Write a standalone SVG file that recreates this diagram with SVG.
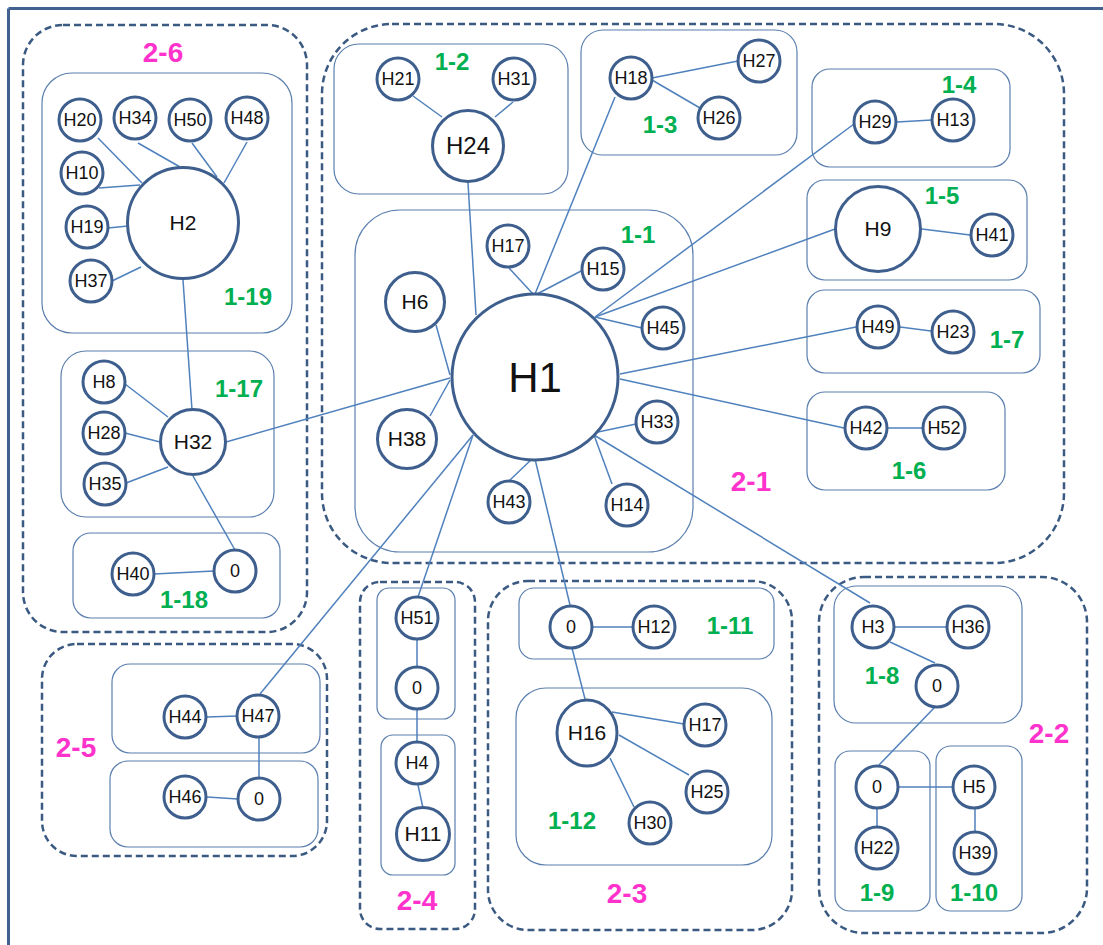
<svg xmlns="http://www.w3.org/2000/svg" width="1103" height="945" viewBox="0 0 1103 945">
<style>
.frame{stroke:#41628f;stroke-width:3;fill:none}
.grp{fill:none;stroke:#3b5a82;stroke-width:2.5;stroke-dasharray:7,4}
.box{fill:none;stroke:#5b7fae;stroke-width:1.2}
.edge{stroke:#4f81bd;stroke-width:1.5;fill:none}
.n{fill:#fff;stroke:#3e5f8d;stroke-width:3}
.t{font-family:"Liberation Sans",Arial,sans-serif;font-size:18px;fill:#111;text-anchor:middle}
.tb{font-family:"Liberation Sans",Arial,sans-serif;font-size:21px;fill:#111;text-anchor:middle}
.g1{font-family:"Liberation Sans",Arial,sans-serif;font-weight:bold;font-size:24px;fill:#00b050;text-anchor:middle}
.g2{font-family:"Liberation Sans",Arial,sans-serif;font-weight:bold;font-size:28px;fill:#ff33cc;text-anchor:middle}
</style>
<rect width="1103" height="945" fill="#fff"/>
<g id="frame">
<line class="frame" x1="8.5" y1="8.5" x2="1103" y2="8.5"/>
<line class="frame" x1="8.5" y1="8.5" x2="8.5" y2="945"/>
</g>
<g id="groups">
<rect class="grp" x="23" y="25" width="284" height="607" rx="40"/>
<rect class="grp" x="322" y="24" width="742" height="539" rx="70"/>
<rect class="grp" x="42" y="644" width="285" height="212" rx="35"/>
<rect class="grp" x="360" y="582" width="115" height="347" rx="20"/>
<rect class="grp" x="488" y="581" width="304" height="349" rx="40"/>
<rect class="grp" x="819" y="577" width="268" height="356" rx="45"/>
</g>
<g id="boxes">
<rect class="box" x="42" y="73" width="250" height="260" rx="30"/>
<rect class="box" x="61" y="351" width="213" height="166" rx="25"/>
<rect class="box" x="73" y="533" width="207" height="85" rx="18"/>
<rect class="box" x="334" y="44" width="234" height="150" rx="25"/>
<rect class="box" x="581" y="30" width="216" height="125" rx="22"/>
<rect class="box" x="812" y="69" width="198" height="98" rx="18"/>
<rect class="box" x="807" y="180" width="220" height="100" rx="18"/>
<rect class="box" x="807" y="290" width="233" height="83" rx="18"/>
<rect class="box" x="807" y="392" width="198" height="98" rx="18"/>
<rect class="box" x="355" y="210" width="338" height="342" rx="45"/>
<rect class="box" x="112" y="664" width="208" height="89" rx="18"/>
<rect class="box" x="110" y="761" width="208" height="86" rx="18"/>
<rect class="box" x="377" y="588" width="78" height="131" rx="12"/>
<rect class="box" x="381" y="735" width="74" height="140" rx="12"/>
<rect class="box" x="519" y="588" width="255" height="71" rx="15"/>
<rect class="box" x="516" y="688" width="256" height="177" rx="30"/>
<rect class="box" x="834" y="586" width="188" height="137" rx="22"/>
<rect class="box" x="835" y="751" width="95" height="160" rx="15"/>
<rect class="box" x="936" y="746" width="86" height="165" rx="15"/>
</g>
<g id="connectors">
<line class="edge" x1="98" y1="138" x2="142" y2="183"/>
<line class="edge" x1="138" y1="143" x2="180" y2="167"/>
<line class="edge" x1="192" y1="143" x2="217" y2="177"/>
<line class="edge" x1="247" y1="142" x2="224" y2="183"/>
<line class="edge" x1="99" y1="188" x2="140" y2="185"/>
<line class="edge" x1="108" y1="228" x2="128" y2="226"/>
<line class="edge" x1="112" y1="281" x2="141" y2="267"/>
<line class="edge" x1="183" y1="280" x2="192" y2="410"/>
<line class="edge" x1="125" y1="384" x2="168" y2="417"/>
<line class="edge" x1="125" y1="433" x2="160" y2="442"/>
<line class="edge" x1="126" y1="483" x2="168" y2="467"/>
<line class="edge" x1="193" y1="476" x2="235" y2="550"/>
<line class="edge" x1="154" y1="574" x2="214" y2="571"/>
<line class="edge" x1="226" y1="442" x2="450" y2="378"/>
<line class="edge" x1="413" y1="96" x2="442" y2="117"/>
<line class="edge" x1="513" y1="102" x2="495" y2="117"/>
<line class="edge" x1="468" y1="183" x2="476" y2="315"/>
<line class="edge" x1="652" y1="78" x2="738" y2="61"/>
<line class="edge" x1="652" y1="80" x2="700" y2="108"/>
<line class="edge" x1="615" y1="97" x2="535" y2="294"/>
<line class="edge" x1="897" y1="122" x2="932" y2="120"/>
<line class="edge" x1="854" y1="124" x2="595" y2="317"/>
<line class="edge" x1="835" y1="229" x2="595" y2="317"/>
<line class="edge" x1="922" y1="229" x2="970" y2="235"/>
<line class="edge" x1="900" y1="327" x2="931" y2="331"/>
<line class="edge" x1="856" y1="327" x2="620" y2="374"/>
<line class="edge" x1="888" y1="428" x2="922" y2="428"/>
<line class="edge" x1="844" y1="428" x2="620" y2="379"/>
<line class="edge" x1="509" y1="268" x2="533" y2="294"/>
<line class="edge" x1="583" y1="270" x2="537" y2="294"/>
<line class="edge" x1="642" y1="328" x2="595" y2="317"/>
<line class="edge" x1="636" y1="424" x2="598" y2="432"/>
<line class="edge" x1="612" y1="484" x2="594" y2="435"/>
<line class="edge" x1="870" y1="603" x2="594" y2="435"/>
<line class="edge" x1="510" y1="480" x2="533" y2="458"/>
<line class="edge" x1="570" y1="605" x2="535" y2="459"/>
<line class="edge" x1="436" y1="325" x2="450" y2="375"/>
<line class="edge" x1="430" y1="416" x2="450" y2="380"/>
<line class="edge" x1="260" y1="694" x2="473" y2="435"/>
<line class="edge" x1="418" y1="597" x2="473" y2="435"/>
<line class="edge" x1="207" y1="717" x2="237" y2="716"/>
<line class="edge" x1="207" y1="797" x2="238" y2="799"/>
<line class="edge" x1="259" y1="738" x2="259" y2="778"/>
<line class="edge" x1="417" y1="640" x2="417" y2="667"/>
<line class="edge" x1="417" y1="709" x2="417" y2="742"/>
<line class="edge" x1="418" y1="785" x2="423" y2="808"/>
<line class="edge" x1="593" y1="627" x2="633" y2="627"/>
<line class="edge" x1="572" y1="648" x2="585" y2="699"/>
<line class="edge" x1="612" y1="712" x2="684" y2="724"/>
<line class="edge" x1="619" y1="735" x2="689" y2="775"/>
<line class="edge" x1="610" y1="758" x2="634" y2="807"/>
<line class="edge" x1="895" y1="627" x2="947" y2="627"/>
<line class="edge" x1="890" y1="642" x2="935" y2="663"/>
<line class="edge" x1="935" y1="707" x2="879" y2="765"/>
<line class="edge" x1="898" y1="787" x2="953" y2="787"/>
<line class="edge" x1="877" y1="809" x2="877" y2="827"/>
<line class="edge" x1="975" y1="809" x2="975" y2="832"/>
</g>
<g id="n-H20"><circle class="n" cx="80" cy="120" r="21"/><text class="t" x="80" y="126">H20</text></g>
<g id="n-H34"><circle class="n" cx="135" cy="118" r="21"/><text class="t" x="135" y="124">H34</text></g>
<g id="n-H50"><circle class="n" cx="190" cy="120" r="21"/><text class="t" x="190" y="126">H50</text></g>
<g id="n-H48"><circle class="n" cx="247" cy="118" r="21"/><text class="t" x="247" y="124">H48</text></g>
<g id="n-H10"><circle class="n" cx="82" cy="173" r="21"/><text class="t" x="82" y="179">H10</text></g>
<g id="n-H19"><circle class="n" cx="87" cy="227" r="21"/><text class="t" x="87" y="233">H19</text></g>
<g id="n-H37"><circle class="n" cx="91" cy="281" r="21"/><text class="t" x="91" y="287">H37</text></g>
<g id="n-H2"><circle class="n" cx="183" cy="223" r="55.5"/><text class="tb" x="183" y="230">H2</text></g>
<g id="n-H8"><circle class="n" cx="104" cy="382" r="21"/><text class="t" x="104" y="388">H8</text></g>
<g id="n-H28"><circle class="n" cx="104" cy="433" r="21"/><text class="t" x="104" y="439">H28</text></g>
<g id="n-H35"><circle class="n" cx="105" cy="484" r="21"/><text class="t" x="105" y="490">H35</text></g>
<g id="n-H32"><circle class="n" cx="193" cy="442" r="32.5"/><text class="tb" x="193" y="449">H32</text></g>
<g id="n-H40"><circle class="n" cx="133" cy="574" r="21"/><text class="t" x="133" y="580">H40</text></g>
<g id="n-0a"><circle class="n" cx="235" cy="571" r="21"/><text class="t" x="235" y="577">0</text></g>
<g id="n-H21"><circle class="n" cx="398" cy="79" r="21"/><text class="t" x="398" y="85">H21</text></g>
<g id="n-H31"><circle class="n" cx="514" cy="79" r="21"/><text class="t" x="514" y="85">H31</text></g>
<g id="n-H24"><circle class="n" cx="468" cy="146" r="35.5"/><text class="tb" x="468" y="154" style="font-size:24px">H24</text></g>
<g id="n-H18"><circle class="n" cx="631" cy="78" r="21"/><text class="t" x="631" y="84">H18</text></g>
<g id="n-H27"><circle class="n" cx="759" cy="61" r="21"/><text class="t" x="759" y="67">H27</text></g>
<g id="n-H26"><circle class="n" cx="719" cy="118" r="21"/><text class="t" x="719" y="124">H26</text></g>
<g id="n-H29"><circle class="n" cx="875" cy="122" r="21"/><text class="t" x="875" y="128">H29</text></g>
<g id="n-H13"><circle class="n" cx="953" cy="120" r="21"/><text class="t" x="953" y="126">H13</text></g>
<g id="n-H9"><circle class="n" cx="878" cy="229" r="42.5"/><text class="tb" x="878" y="236">H9</text></g>
<g id="n-H41"><circle class="n" cx="992" cy="235" r="21"/><text class="t" x="992" y="241">H41</text></g>
<g id="n-H49"><circle class="n" cx="878" cy="327" r="21"/><text class="t" x="878" y="333">H49</text></g>
<g id="n-H23"><circle class="n" cx="953" cy="332" r="21"/><text class="t" x="953" y="338">H23</text></g>
<g id="n-H42"><circle class="n" cx="866" cy="428" r="21"/><text class="t" x="866" y="434">H42</text></g>
<g id="n-H52"><circle class="n" cx="944" cy="428" r="21"/><text class="t" x="944" y="434">H52</text></g>
<g id="n-H1"><circle class="n" cx="535" cy="377" r="83"/><text class="tb" x="535" y="392" style="font-size:42px">H1</text></g>
<g id="n-H17"><circle class="n" cx="508" cy="246" r="21"/><text class="t" x="508" y="252">H17</text></g>
<g id="n-H15"><circle class="n" cx="603" cy="269" r="21"/><text class="t" x="603" y="275">H15</text></g>
<g id="n-H6"><circle class="n" cx="415" cy="302" r="29.5"/><text class="tb" x="415" y="309">H6</text></g>
<g id="n-H45"><circle class="n" cx="663" cy="328" r="21"/><text class="t" x="663" y="334">H45</text></g>
<g id="n-H38"><circle class="n" cx="407" cy="439" r="29.5"/><text class="tb" x="407" y="446">H38</text></g>
<g id="n-H33"><circle class="n" cx="657" cy="422" r="21"/><text class="t" x="657" y="428">H33</text></g>
<g id="n-H43"><circle class="n" cx="509" cy="502" r="21"/><text class="t" x="509" y="508">H43</text></g>
<g id="n-H14"><circle class="n" cx="627" cy="505" r="21"/><text class="t" x="627" y="511">H14</text></g>
<g id="n-H44"><circle class="n" cx="185" cy="717" r="21"/><text class="t" x="185" y="723">H44</text></g>
<g id="n-H47"><circle class="n" cx="258" cy="716" r="21"/><text class="t" x="258" y="722">H47</text></g>
<g id="n-H46"><circle class="n" cx="185" cy="797" r="21"/><text class="t" x="185" y="803">H46</text></g>
<g id="n-0b"><circle class="n" cx="259" cy="799" r="21"/><text class="t" x="259" y="805">0</text></g>
<g id="n-H51"><circle class="n" cx="417" cy="618" r="21"/><text class="t" x="417" y="624">H51</text></g>
<g id="n-0c"><circle class="n" cx="417" cy="688" r="21"/><text class="t" x="417" y="694">0</text></g>
<g id="n-H4"><circle class="n" cx="417" cy="763" r="21"/><text class="t" x="417" y="769">H4</text></g>
<g id="n-H11"><circle class="n" cx="423" cy="834" r="26.5"/><text class="tb" x="423" y="841">H11</text></g>
<g id="n-0d"><circle class="n" cx="571" cy="627" r="21"/><text class="t" x="571" y="633">0</text></g>
<g id="n-H12"><circle class="n" cx="654" cy="627" r="21"/><text class="t" x="654" y="633">H12</text></g>
<g id="n-H16"><ellipse class="n" cx="587" cy="733" rx="30" ry="33"/><text class="tb" x="587" y="740">H16</text></g>
<g id="n-H17b"><circle class="n" cx="705" cy="725" r="21"/><text class="t" x="705" y="731">H17</text></g>
<g id="n-H25"><circle class="n" cx="707" cy="792" r="21"/><text class="t" x="707" y="798">H25</text></g>
<g id="n-H30"><circle class="n" cx="650" cy="823" r="21"/><text class="t" x="650" y="829">H30</text></g>
<g id="n-H3"><circle class="n" cx="873" cy="627" r="21"/><text class="t" x="873" y="633">H3</text></g>
<g id="n-H36"><circle class="n" cx="968" cy="627" r="21"/><text class="t" x="968" y="633">H36</text></g>
<g id="n-0e"><circle class="n" cx="937" cy="686" r="21"/><text class="t" x="937" y="692">0</text></g>
<g id="n-0f"><circle class="n" cx="877" cy="787" r="21"/><text class="t" x="877" y="793">0</text></g>
<g id="n-H22"><circle class="n" cx="877" cy="848" r="21"/><text class="t" x="877" y="854">H22</text></g>
<g id="n-H5"><circle class="n" cx="974" cy="787" r="21"/><text class="t" x="974" y="793">H5</text></g>
<g id="n-H39"><circle class="n" cx="975" cy="853" r="21"/><text class="t" x="975" y="859">H39</text></g>
<g id="labels">
<text class="g2" x="163" y="62">2-6</text>
<text class="g1" x="248" y="305">1-19</text>
<text class="g1" x="239" y="397">1-17</text>
<text class="g1" x="184" y="608">1-18</text>
<text class="g1" x="452" y="70">1-2</text>
<text class="g1" x="660" y="133">1-3</text>
<text class="g1" x="959" y="93">1-4</text>
<text class="g1" x="942" y="204">1-5</text>
<text class="g1" x="1007" y="348">1-7</text>
<text class="g1" x="909" y="479">1-6</text>
<text class="g1" x="638" y="243">1-1</text>
<text class="g2" x="751" y="491">2-1</text>
<text class="g2" x="76" y="757">2-5</text>
<text class="g2" x="417" y="910">2-4</text>
<text class="g1" x="730" y="634">1-11</text>
<text class="g1" x="572" y="829">1-12</text>
<text class="g2" x="627" y="903">2-3</text>
<text class="g1" x="882" y="684">1-8</text>
<text class="g2" x="1049" y="743">2-2</text>
<text class="g1" x="877" y="901">1-9</text>
<text class="g1" x="974" y="901">1-10</text>
</g>
</svg>
